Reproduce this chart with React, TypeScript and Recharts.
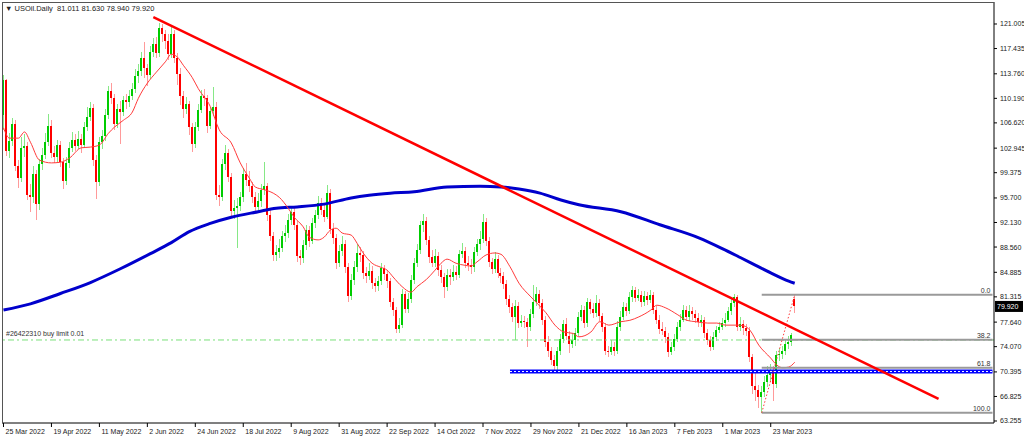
import React from "react";
import {
  ComposedChart,
  Bar,
  Line,
  XAxis,
  YAxis,
  ReferenceLine,
} from "recharts";

// daily candles, 25 Mar 2022 .. early Apr 2023
const opens = [
  107.8,112.8,102.6,104.0,106.4,100.4,98.6,103.0,103.3,96.2,
  95.8,99.2,94.8,100.6,102.0,103.9,106.2,102.3,101.6,103.4,
  100.9,98.2,100.8,103.0,104.1,103.3,104.3,103.4,106.0,107.5,
  108.8,101.2,98.0,103.9,104.7,107.8,111.2,110.2,106.4,108.6,
  108.2,109.9,109.6,110.5,111.6,113.5,114.1,116.0,114.6,113.6,
  117.0,118.1,116.8,120.4,119.6,118.6,116.6,119.6,116.1,113.7,
  110.5,108.6,109.3,106.0,103.6,106.0,108.5,110.6,110.2,106.2,
  108.3,109.0,96.2,95.8,100.6,102.2,98.8,93.8,94.2,94.6,
  95.8,99.2,98.3,97.4,95.8,94.4,95.2,96.8,97.4,93.2,
  90.2,87.4,87.9,88.4,90.1,90.6,92.5,93.6,91.8,87.2,
  86.9,88.9,91.0,89.5,92.0,93.2,95.0,94.0,93.0,96.4,
  91.2,89.9,86.2,88.0,89.0,85.7,81.4,83.8,85.7,87.7,
  87.4,84.8,84.4,85.1,83.3,82.9,83.6,85.5,84.6,83.6,
  80.5,79.4,76.6,77.2,81.8,79.6,81.0,83.8,86.2,88.2,
  91.8,92.4,89.6,87.1,86.3,87.3,85.2,84.2,82.8,84.5,
  84.2,85.0,84.5,87.6,88.0,86.2,86.0,85.7,87.8,89.0,
  89.8,92.2,89.5,86.4,85.3,86.8,84.8,84.3,83.2,81.0,
  79.8,78.4,80.0,77.5,77.8,77.6,77.0,78.8,80.6,81.8,
  80.4,78.0,74.8,73.4,72.2,71.2,73.4,75.2,77.3,75.6,
  74.5,75.0,76.0,78.4,79.4,77.5,80.5,79.6,79.0,80.4,
  78.5,77.0,73.4,73.3,74.0,73.5,77.0,78.4,79.8,79.3,
  81.3,82.3,81.2,81.6,80.6,81.4,80.9,81.6,79.4,78.0,
  76.6,76.4,75.5,73.3,74.0,75.2,77.0,78.0,79.4,78.4,
  79.2,78.8,78.3,77.6,77.9,76.0,75.0,74.0,75.5,76.5,
  77.0,77.5,78.0,79.2,80.4,81.3,77.0,77.3,76.8,76.4,
  72.6,68.4,67.8,66.7,67.5,69.0,70.0,70.7,68.6,72.8,
  73.0,73.4,74.4,74.8,81.011,
];

const highs = [
  113.6,113.0,105.2,107.4,107.0,101.2,104.6,105.0,103.9,97.8,
  100.4,99.8,101.4,103.0,105.2,107.9,107.0,103.3,104.2,104.0,
  101.5,101.6,103.8,105.3,105.0,105.4,105.0,106.8,108.9,109.7,
  109.4,102.0,104.6,105.6,108.6,112.0,112.4,110.8,109.4,109.8,
  110.6,110.8,111.4,112.4,114.4,115.2,116.9,118.4,115.2,117.8,
  119.0,119.1,121.2,121.0,120.2,119.6,120.8,120.2,116.8,114.6,
  111.2,110.4,109.8,106.6,106.7,109.3,111.4,111.6,110.7,109.0,
  111.8,109.6,97.6,101.4,103.4,102.8,99.4,95.4,95.7,96.6,
  100.0,100.8,99.6,98.0,96.6,96.4,97.8,101.0,97.9,93.9,
  90.8,88.9,89.8,90.9,91.8,93.3,94.5,94.2,92.3,88.1,
  89.6,91.8,91.6,92.8,94.0,96.0,95.7,94.8,97.6,97.0,
  92.0,90.4,88.8,90.2,89.6,86.2,84.6,86.5,89.0,88.6,
  88.0,85.6,86.2,85.8,84.0,84.4,86.2,86.0,85.2,84.1,
  81.2,79.9,78.2,82.5,82.2,81.9,84.5,86.9,89.0,92.4,
  93.4,92.9,90.2,88.2,88.3,87.9,86.0,84.8,85.3,85.4,
  85.9,85.8,88.2,89.2,88.6,87.2,86.8,88.5,89.8,90.9,
  93.3,92.8,90.0,87.0,87.8,87.4,85.5,84.9,83.7,81.6,
  80.4,80.8,80.5,78.7,78.6,78.2,79.6,83.0,82.8,82.3,
  81.0,78.5,75.6,74.0,72.8,74.0,75.9,78.0,78.2,76.4,
  76.0,76.8,79.1,80.2,80.0,81.2,81.0,80.4,81.6,81.0,
  79.0,77.5,74.2,75.0,74.8,77.8,79.2,80.6,80.4,82.0,
  82.9,82.8,82.5,82.2,82.1,82.0,82.3,82.0,80.0,78.7,
  77.6,77.0,76.0,74.7,75.9,77.7,78.8,80.2,80.0,80.2,
  79.8,79.4,78.9,78.7,78.4,76.6,75.6,76.2,77.1,77.7,
  78.3,78.9,79.9,81.0,81.8,81.6,78.4,77.9,77.4,76.9,
  73.0,70.4,68.5,68.3,69.8,71.2,71.6,71.3,73.5,73.9,
  74.2,75.0,75.6,76.0,81.63,
];

const lows = [
  105.6,101.8,101.5,103.2,99.6,97.2,98.0,101.6,95.4,93.6,
  95.0,92.5,94.0,99.8,101.4,103.2,101.5,100.8,101.0,100.2,
  97.0,97.6,100.1,102.4,102.6,102.8,102.2,102.9,105.4,106.9,
  100.4,95.6,97.4,102.8,104.0,107.2,109.4,105.6,105.9,103.5,
  107.6,108.7,108.9,109.9,111.0,112.4,113.4,113.2,112.0,113.0,
  116.2,116.0,116.2,118.4,117.4,115.8,116.0,115.4,112.2,109.2,
  107.4,107.9,104.9,102.4,102.9,105.4,108.0,109.1,105.2,105.8,
  107.6,95.4,94.5,95.2,99.8,98.0,92.9,92.6,88.4,93.8,
  95.1,97.5,96.6,94.9,93.4,93.6,94.4,96.1,92.4,89.4,
  86.6,86.5,86.9,87.8,89.3,89.9,91.8,91.0,86.4,85.9,
  86.2,88.2,88.6,89.0,91.3,92.6,93.2,92.2,92.6,90.5,
  89.0,85.4,85.6,87.2,84.8,80.6,80.9,83.0,85.0,86.4,
  83.9,83.4,83.8,82.5,82.0,82.2,83.0,83.8,82.6,79.8,
  78.6,76.0,76.1,76.8,78.9,79.0,80.4,83.2,85.6,87.6,
  90.8,88.8,86.3,85.6,85.7,84.4,83.4,81.2,82.1,83.0,
  83.6,83.7,84.0,86.9,85.5,85.1,84.6,85.0,87.2,88.2,
  89.2,88.7,85.6,84.6,84.8,84.0,83.4,82.4,80.2,79.0,
  77.6,75.0,76.8,76.9,76.8,74.0,76.4,78.2,80.0,79.6,
  77.2,74.0,72.6,71.4,70.5,70.6,72.8,74.6,75.0,73.2,
  73.9,74.2,75.6,77.8,76.8,77.0,78.8,78.2,78.4,77.8,
  76.2,72.8,72.5,72.9,72.7,73.0,76.4,77.9,78.6,78.8,
  80.6,80.5,80.7,79.9,80.0,80.1,80.4,78.8,77.3,75.9,
  75.7,74.6,72.6,72.8,73.5,74.8,76.4,77.6,77.8,77.8,
  78.0,77.5,76.9,77.0,75.4,74.3,73.4,73.6,74.9,76.0,
  76.5,77.0,77.6,78.7,79.8,76.4,76.3,75.8,75.6,71.8,
  67.2,66.2,65.2,64.45,66.8,68.2,69.0,66.2,68.0,72.0,
  72.3,72.9,73.8,74.1,78.94,
];

const closes = [
  112.8,102.6,104.0,106.4,100.4,98.6,103.0,103.3,96.2,95.8,
  99.2,94.8,100.6,102.0,103.9,106.2,102.3,101.6,103.4,100.9,
  98.2,100.8,103.0,104.1,103.3,104.3,103.4,106.0,107.5,108.8,
  101.2,98.0,103.9,104.7,107.8,111.2,110.2,106.4,108.6,108.2,
  109.9,109.6,110.5,111.6,113.5,114.1,116.0,114.6,113.6,117.0,
  118.1,116.8,120.4,119.6,118.6,116.6,119.6,116.1,113.7,110.5,
  108.6,109.3,106.0,103.6,106.0,108.5,110.6,110.2,106.2,108.3,
  109.0,96.2,95.8,100.6,102.2,98.8,93.8,94.2,94.6,95.8,
  99.2,98.3,97.4,95.8,94.4,95.2,96.8,97.4,93.2,90.2,
  87.4,87.9,88.4,90.1,90.6,92.5,93.6,91.8,87.2,86.9,
  88.9,91.0,89.5,92.0,93.2,95.0,94.0,93.0,96.4,91.2,
  89.9,86.2,88.0,89.0,85.7,81.4,83.8,85.7,87.7,87.4,
  84.8,84.4,85.1,83.3,82.9,83.6,85.5,84.6,83.6,80.5,
  79.4,76.6,77.2,81.8,79.6,81.0,83.8,86.2,88.2,91.8,
  92.4,89.6,87.1,86.3,87.3,85.2,84.2,82.8,84.5,84.2,
  85.0,84.5,87.6,88.0,86.2,86.0,85.7,87.8,89.0,89.8,
  92.2,89.5,86.4,85.3,86.8,84.8,84.3,83.2,81.0,79.8,
  78.4,80.0,77.5,77.8,77.6,77.0,78.8,80.6,81.8,80.4,
  78.0,74.8,73.4,72.2,71.2,73.4,75.2,77.3,75.6,74.5,
  75.0,76.0,78.4,79.4,77.5,80.5,79.6,79.0,80.4,78.5,
  77.0,73.4,73.3,74.0,73.5,77.0,78.4,79.8,79.3,81.3,
  82.3,81.2,81.6,80.6,81.4,80.9,81.6,79.4,78.0,76.6,
  76.4,75.5,73.3,74.0,75.2,77.0,78.0,79.4,78.4,79.2,
  78.8,78.3,77.6,77.9,76.0,75.0,74.0,75.5,76.5,77.0,
  77.5,78.0,79.2,80.4,81.3,77.0,77.3,76.8,76.4,72.6,
  68.4,67.8,66.7,67.5,69.0,70.0,70.7,68.6,72.8,73.0,
  73.4,74.4,74.8,75.8,79.92,
];

// thin red moving average, read at these bar indexes
const fastMaAt = [0,2,5,7,9,12,16,19,22,26,29,32,35,37,40,43,45,48,51,54,56,58,60,63,65,69,72,76,79,82,84,87,90,92,95,97,100,102,105,107,109,111,113,116,118,120,123,126,128,130,133,136,138,141,144,146,148,151,154,156,158,161,164,166,169,172,176,178,181,184,187,190,192,196,199,202,206,209,212,216,218,221,225,228,231,235,238,241,245,247,249,252,256,258,260,262,264];
const fastMaValues = [105.9,104.4,104.4,105.3,103.8,101.2,100.8,100.9,101.5,103.0,103.1,103.4,105.1,106.0,107.0,108.2,110.2,112.4,114.0,115.5,116.6,116.2,115.0,113.2,111.6,109.0,105.6,103.7,100.8,98.6,97.3,96.9,96.4,95.8,94.2,92.9,91.5,90.0,89.6,90.0,91.0,91.3,90.6,90.3,89.1,87.7,86.2,85.6,85.2,84.2,82.8,82.0,82.8,83.8,85.2,86.2,86.8,86.2,85.9,85.8,86.4,87.4,87.7,87.5,85.7,83.3,81.3,80.4,79.0,77.2,76.2,76.0,75.5,76.2,77.7,77.2,77.7,77.9,78.4,79.4,80.1,79.7,78.7,77.9,77.7,77.5,77.5,77.2,77.2,77.1,76.5,74.3,72.4,71.4,71.0,71.1,71.8];

// thick blue long moving average
const slowMaAt = [0,9,19,29,39,49,56,62,69,76,85,91,98,107,116,122,129,137,148,159,166,172,179,186,192,206,219,232,240,246,251,256,262,264];
const slowMaValues = [79.4,80.3,81.8,83.4,85.4,87.6,89.2,90.8,92.0,92.9,93.7,94.2,94.4,94.8,95.7,96.1,96.4,96.6,97.3,97.4,97.3,97.0,96.4,95.4,94.7,93.7,91.8,89.9,88.3,87.0,85.9,84.8,83.6,83.3];

const xTickAt = [0,16,32,48,64,80,96,112,128,144,160,176,192,208,224,240,256];
const xTickLabels = ["25 Mar 2022","19 Apr 2022","11 May 2022","2 Jun 2022","24 Jun 2022","18 Jul 2022","9 Aug 2022","31 Aug 2022","22 Sep 2022","14 Oct 2022","7 Nov 2022","29 Nov 2022","21 Dec 2022","16 Jan 2023","7 Feb 2023","1 Mar 2023","23 Mar 2023"];
const yTicks = [121.005,117.435,113.76,110.19,106.62,102.945,99.375,95.7,92.13,88.56,84.885,81.315,77.64,74.07,70.395,66.825,63.255];

const fibLevels = [0, 38.2, 61.8, 100];
const fibHigh = 81.63;
const fibLow = 64.45;
const fibFrom = 253;
const lastBar = 330;
const trendStart = { x: 50, y: 122.02 };
const trendEnd = { x: 312, y: 66.46 };
const supportLevel = 70.45;
const supportFrom = 169;
const buyLimit = 75.04;
const lastPrice = 79.92;

const FONT = "'Liberation Sans', Arial, sans-serif";

const fastMap = new Map(fastMaAt.map((k, j) => [k, fastMaValues[j]]));
const slowMap = new Map(slowMaAt.map((k, j) => [k, slowMaValues[j]]));

const rows = Array.from({ length: lastBar + 1 }, (_, i) => {
  const has = i < closes.length;
  return {
    i,
    o: has ? opens[i] : null,
    h: has ? highs[i] : null,
    l: has ? lows[i] : null,
    c: has ? closes[i] : null,
    range: has ? [lows[i], highs[i]] : null,
    fast: fastMap.has(i) ? fastMap.get(i) : null,
    slow: slowMap.has(i) ? slowMap.get(i) : null,
  };
});

function Candle(props: any) {
  const { x, y, width, height, payload } = props;
  if (!payload || payload.o == null || height == null) return null;
  const { o, h, l, c } = payload;
  const k = h > l ? height / (h - l) : 0;
  const cx = Math.round(x + width / 2);
  const yo = y + (h - o) * k;
  const yc = y + (h - c) * k;
  const up = c >= o;
  const top = Math.min(yo, yc);
  const bh = Math.max(1, Math.abs(yc - yo));
  return (
    <g shapeRendering="crispEdges">
      <rect x={cx} y={y} width={1} height={Math.max(1, height)} fill={up ? "#86e886" : "#ff9a9a"} />
      <rect x={cx - 1} y={top} width={2} height={bh} fill={up ? "#00cc00" : "#ff0000"} />
    </g>
  );
}

function XTick(props: any) {
  const { x, y, payload } = props;
  const idx = xTickAt.indexOf(payload.value);
  return (
    <g>
      <line x1={x} x2={x} y1={y} y2={y + 4} stroke="#000" />
      <text x={x + 2} y={y + 11} fontSize={7} fill="#222" fontFamily={FONT}>
        {idx >= 0 ? xTickLabels[idx] : ""}
      </text>
    </g>
  );
}

function YTick(props: any) {
  const { x, y, payload } = props;
  return (
    <g>
      <line x1={x} x2={x + 3} y1={y} y2={y} stroke="#000" />
      <text x={x + 6} y={y + 2.5} fontSize={7} fill="#222" fontFamily={FONT}>
        {Number(payload.value).toFixed(3)}
      </text>
    </g>
  );
}

function PriceTag(props: any) {
  const vb = props.viewBox || {};
  const right = vb.x + vb.width;
  const yy = vb.y;
  return (
    <g>
      <rect x={right + 1} y={yy - 5.5} width={28} height={11} fill="#000" />
      <text x={right + 3} y={yy + 2.5} fontSize={7} fill="#fff" fontFamily={FONT}>
        {lastPrice.toFixed(3)}
      </text>
    </g>
  );
}

export default function App() {
  const fibRange = fibHigh - fibLow;
  return (
    <div style={{ position: "relative", width: 1024, height: 439, background: "#fff" }}>
      <style>{`body{margin:0;background:#fff}`}</style>
      <ComposedChart
        width={1024}
        height={439}
        data={rows}
        margin={{ top: 2, right: 0, bottom: 0, left: 2 }}
        barCategoryGap={0}
        style={{ fontFamily: FONT }}
      >
        <XAxis
          dataKey="i"
          type="category"
          ticks={xTickAt}
          interval={0}
          height={16}
          tickSize={0}
          tickMargin={0}
          tickLine={false}
          axisLine={{ stroke: "#000" }}
          tick={<XTick />}
        />
        <YAxis
          orientation="right"
          width={30}
          domain={[62.964, 124.205]}
          allowDataOverflow
          ticks={yTicks}
          interval={0}
          tickSize={0}
          tickMargin={0}
          tickLine={false}
          axisLine={{ stroke: "#000" }}
          tick={<YTick />}
        />

        <ReferenceLine
          y={buyLimit}
          stroke="#79e079"
          strokeWidth={1}
          strokeDasharray="6 3 2 3"
          label={{ value: "#26422310 buy limit 0.01", position: "insideBottomLeft", offset: 4, fontSize: 7, fill: "#333" }}
        />

        <Line
          dataKey="slow"
          type="monotone"
          stroke="#0000cc"
          strokeWidth={3}
          dot={false}
          connectNulls
          isAnimationActive={false}
        />

        <Bar dataKey="range" barSize={2} shape={<Candle />} isAnimationActive={false} />

        <Line
          dataKey="fast"
          type="monotone"
          stroke="#ff3b3b"
          strokeWidth={1}
          dot={false}
          connectNulls
          isAnimationActive={false}
        />

        <ReferenceLine
          segment={[{ x: supportFrom, y: supportLevel }, { x: lastBar, y: supportLevel }]}
          stroke="#0000ff"
          strokeWidth={4}
          ifOverflow="visible"
        />
        <ReferenceLine
          segment={[{ x: supportFrom, y: supportLevel }, { x: lastBar, y: supportLevel }]}
          stroke="#ffffff"
          strokeWidth={1}
          strokeDasharray="2 2"
          ifOverflow="visible"
        />

        {fibLevels.map((lv) => {
          const v = fibHigh - (lv / 100) * fibRange;
          return (
            <ReferenceLine
              key={lv}
              segment={[{ x: fibFrom, y: v }, { x: lastBar, y: v }]}
              stroke="#9a9a9a"
              strokeWidth={2}
              ifOverflow="visible"
              label={{ value: lv.toFixed(1), position: "insideBottomRight", offset: 2, fontSize: 7, fill: "#333" }}
            />
          );
        })}

        <ReferenceLine
          segment={[{ x: fibFrom, y: fibLow }, { x: closes.length - 1, y: fibHigh }]}
          stroke="#ff3b3b"
          strokeWidth={1}
          strokeDasharray="1.5 2"
          ifOverflow="visible"
        />

        <ReferenceLine
          segment={[trendStart, trendEnd]}
          stroke="#ff0000"
          strokeWidth={2.5}
          ifOverflow="visible"
        />

        <ReferenceLine y={lastPrice} stroke="none" strokeWidth={0} label={<PriceTag />} />
      </ComposedChart>

      <div
        style={{
          position: "absolute",
          left: 2,
          top: 2,
          width: 992,
          height: 421,
          borderLeft: "1px solid #555",
          borderTop: "1px solid #555",
          boxSizing: "border-box",
          pointerEvents: "none",
        }}
      />
      <div
        style={{
          position: "absolute",
          left: 5,
          top: 4,
          fontFamily: FONT,
          fontSize: 7.5,
          color: "#222",
          whiteSpace: "pre",
          lineHeight: "9px",
        }}
      >
        {"\u25BC USOil.Daily  81.011 81.630 78.940 79.920"}
      </div>
    </div>
  );
}
